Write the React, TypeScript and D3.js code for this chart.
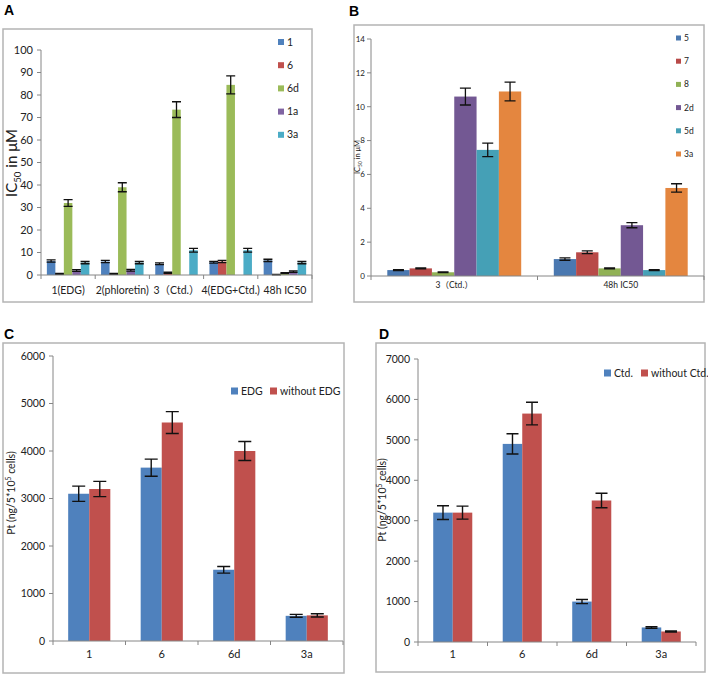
import React, { useRef, useEffect } from 'react';
import * as d3 from 'd3';

// Panel A: IC50 (µM)
const catsA = ['1(EDG)', '2(phloretin)', '3（Ctd.）', '4(EDG+Ctd.)', '48h IC50'];
const seriesA = ['1', '6', '6d', '1a', '3a'];
const a1 = [6.2, 6.0, 5.0, 5.7, 6.5];
const a6 = [0.5, 0.5, 1.0, 6.0, 0.2];
const a6d = [32, 39, 73.5, 84.5, 0.8];
const a1a = [2.0, 2.1, 0, 0, 1.5];
const a3a = [5.5, 5.5, 11, 11, 5.5];
const a1Err = [0.5, 0.5, 0.4, 0.4, 0.5];
const a6Err = [0.2, 0.2, 0.3, 0.5, 0.1];
const a6dErr = [1.5, 2, 3.5, 4, 0.2];
const a1aErr = [0.4, 0.4, 0, 0, 0.3];
const a3aErr = [0.5, 0.5, 0.8, 0.8, 0.5];

// Panel B: IC50 (µM)
const catsB = ['3（Ctd.）', '48h IC50'];
const seriesB = ['5', '7', '8', '2d', '5d', '3a'];
const b5 = [0.35, 1.0];
const b7 = [0.45, 1.4];
const b8 = [0.22, 0.45];
const b2d = [10.6, 3.0];
const b5d = [7.45, 0.35];
const b3a = [10.9, 5.2];
const b5Err = [0.03, 0.07];
const b7Err = [0.03, 0.08];
const b8Err = [0.02, 0.03];
const b2dErr = [0.5, 0.15];
const b5dErr = [0.4, 0.03];
const b3aErr = [0.55, 0.25];

// Panel C: Pt uptake
const catsC = ['1', '6', '6d', '3a'];
const seriesC = ['EDG', 'without EDG'];
const cEdg = [3100, 3650, 1500, 530];
const cNoEdg = [3200, 4600, 4000, 540];
const cEdgErr = [160, 180, 70, 30];
const cNoEdgErr = [160, 230, 200, 35];

// Panel D: Pt uptake
const catsD = ['1', '6', '6d', '3a'];
const seriesD = ['Ctd.', 'without Ctd.'];
const dCtd = [3200, 4900, 1000, 360];
const dNoCtd = [3200, 5650, 3500, 260];
const dCtdErr = [170, 250, 50, 20];
const dNoCtdErr = [160, 280, 180, 15];

const FONT = "Lato, 'Noto Sans CJK SC', sans-serif";
const AXIS = '#868686';

function drawPanel(root: any, cfg: any) {
  const g = root.append('g');
  // frame
  g.append('rect')
    .attr('x', cfg.frame[0]).attr('y', cfg.frame[1])
    .attr('width', cfg.frame[2]).attr('height', cfg.frame[3])
    .attr('fill', 'white').attr('stroke', '#b4b4b4').attr('stroke-width', 1.5);
  // panel letter
  g.append('text').attr('x', cfg.letterPos[0]).attr('y', cfg.letterPos[1])
    .attr('font-family', 'Arial, sans-serif').attr('font-weight', 'bold')
    .attr('font-size', 14).text(cfg.letter);

  const y = d3.scaleLinear().domain([0, cfg.max]).range([cfg.bottom, cfg.top]);
  const x0 = d3.scaleBand().domain(cfg.cats).range([cfg.left, cfg.right]).padding(0);
  const x1 = d3.scaleBand().domain(cfg.series).range([0, x0.bandwidth()])
    .paddingInner(0).paddingOuter(cfg.outer);

  // bars
  cfg.cats.forEach((c: string, ci: number) => {
    cfg.series.forEach((s: string, si: number) => {
      const v = cfg.values[si][ci];
      const e = cfg.errors[si][ci];
      const bx = (x0(c) || 0) + (x1(s) || 0);
      const bw = x1.bandwidth();
      g.append('rect').attr('x', bx).attr('y', y(v))
        .attr('width', bw).attr('height', cfg.bottom - y(v))
        .attr('fill', cfg.colors[si]);
      if (e > 0) {
        const cx = bx + bw / 2;
        const cw = cfg.cap / 2;
        g.append('path')
          .attr('d', `M${cx},${y(v - e)}V${y(v + e)}M${cx - cw},${y(v - e)}H${cx + cw}M${cx - cw},${y(v + e)}H${cx + cw}`)
          .attr('stroke', '#111').attr('stroke-width', cfg.errW).attr('fill', 'none');
      }
    });
  });

  // y axis
  const ticks = d3.range(0, cfg.max + cfg.step / 2, cfg.step);
  g.append('line').attr('x1', cfg.left).attr('x2', cfg.left)
    .attr('y1', cfg.bottom).attr('y2', cfg.top).attr('stroke', AXIS);
  ticks.forEach((t: number) => {
    g.append('line').attr('x1', cfg.left - 4).attr('x2', cfg.left)
      .attr('y1', y(t)).attr('y2', y(t)).attr('stroke', AXIS);
    g.append('text').attr('x', cfg.left - cfg.tickGap).attr('y', y(t))
      .attr('dy', '0.35em').attr('text-anchor', 'end')
      .attr('font-family', FONT).attr('font-size', cfg.tickFont).attr('fill', '#222')
      .text(t);
  });

  // x axis
  g.append('line').attr('x1', cfg.left).attr('x2', cfg.right)
    .attr('y1', cfg.bottom).attr('y2', cfg.bottom).attr('stroke', AXIS);
  const bounds = cfg.cats.map((c: string) => x0(c) || 0).concat([cfg.right]);
  bounds.forEach((bx: number) => {
    g.append('line').attr('x1', bx).attr('x2', bx)
      .attr('y1', cfg.bottom).attr('y2', cfg.bottom + 4).attr('stroke', AXIS);
  });
  cfg.cats.forEach((c: string) => {
    g.append('text').attr('x', (x0(c) || 0) + x0.bandwidth() / 2)
      .attr('y', cfg.bottom + cfg.catDy)
      .attr('text-anchor', 'middle').attr('font-family', FONT)
      .attr('font-size', cfg.catFont).attr('fill', '#222').text(c);
  });

  // y label
  const yl = g.append('text')
    .attr('transform', `translate(${cfg.yLabelPos[0]},${cfg.yLabelPos[1]}) rotate(-90)`)
    .attr('text-anchor', 'middle').attr('font-family', FONT)
    .attr('font-size', cfg.yLabelFont).attr('fill', '#222');
  cfg.yLabel.forEach((part: any) => {
    const ts = yl.append('tspan').text(part.t);
    if (part.sub) ts.attr('font-size', cfg.yLabelFont * 0.65).attr('dy', cfg.yLabelFont * 0.25);
    if (part.sup) ts.attr('font-size', cfg.yLabelFont * 0.65).attr('dy', -cfg.yLabelFont * 0.35);
    if (part.back) ts.attr('dy', part.back * cfg.yLabelFont);
  });

  // legend
  cfg.series.forEach((s: string, si: number) => {
    const [lx, ly] = cfg.legendPos[si];
    g.append('rect').attr('x', lx).attr('y', ly - cfg.sq / 2)
      .attr('width', cfg.sq).attr('height', cfg.sq).attr('fill', cfg.colors[si]);
    g.append('text').attr('x', lx + cfg.sq + 3).attr('y', ly).attr('dy', '0.35em')
      .attr('font-family', FONT).attr('font-size', cfg.legendFont).attr('fill', '#222').text(s);
  });
}

export default function App() {
  const svgRef = useRef<SVGSVGElement>(null);

  useEffect(() => {
    if (!svgRef.current) return;
    const svg = d3.select(svgRef.current);
    svg.selectAll('*').remove();

    const excel = ['#4f81bd', '#c0504d', '#9bbb59', '#8064a2', '#4bacc6'];

    drawPanel(svg, {
      letter: 'A', letterPos: [4, 15],
      frame: [3, 29, 309, 273],
      left: 41, right: 312, top: 50, bottom: 275,
      max: 100, step: 10, outer: 0.69,
      cats: catsA, series: seriesA,
      values: [a1, a6, a6d, a1a, a3a],
      errors: [a1Err, a6Err, a6dErr, a1aErr, a3aErr],
      colors: excel, cap: 9, errW: 1.3,
      tickFont: 11, tickGap: 8, catFont: 10.5, catDy: 19,
      yLabel: [{ t: 'IC' }, { t: '50', sub: true }, { t: ' in μM', back: -0.25 }],
      yLabelPos: [17, 163], yLabelFont: 15,
      legendPos: seriesA.map((_, i) => [278, 42 + i * 23.2]), sq: 6, legendFont: 10.5,
    });

    drawPanel(svg, {
      letter: 'B', letterPos: [349, 16],
      frame: [354, 25, 350, 277],
      left: 371, right: 704, top: 39, bottom: 276,
      max: 14, step: 2, outer: 0.73,
      cats: catsB, series: seriesB,
      values: [b5, b7, b8, b2d, b5d, b3a],
      errors: [b5Err, b7Err, b8Err, b2dErr, b5dErr, b3aErr],
      colors: ['#4a78b0', '#b84a48', '#90b155', '#735893', '#45a0b6', '#e4863f'],
      cap: 11, errW: 1.3,
      tickFont: 8, tickGap: 6, catFont: 8.5, catDy: 12,
      yLabel: [{ t: 'IC' }, { t: '50', sub: true }, { t: ' in μM', back: -0.25 }],
      yLabelPos: [360, 157], yLabelFont: 7.5,
      legendPos: seriesB.map((_, i) => [676, 38 + i * 23.2]), sq: 5, legendFont: 8.5,
    });

    drawPanel(svg, {
      letter: 'C', letterPos: [4, 339],
      frame: [3, 343, 341, 330],
      left: 53, right: 343, top: 356, bottom: 641,
      max: 6000, step: 1000, outer: 0.72,
      cats: catsC, series: seriesC,
      values: [cEdg, cNoEdg],
      errors: [cEdgErr, cNoEdgErr],
      colors: ['#4f81bd', '#c0504d'], cap: 13, errW: 1.4,
      tickFont: 10.5, tickGap: 8, catFont: 11, catDy: 17,
      yLabel: [{ t: 'Pt (ng/5*10' }, { t: '5', sup: true }, { t: ' cells)', back: 0.35 }],
      yLabelPos: [15, 493], yLabelFont: 10.5,
      legendPos: [[231, 391], [270, 391]], sq: 7, legendFont: 10.5,
    });

    drawPanel(svg, {
      letter: 'D', letterPos: [379, 339],
      frame: [376, 343, 329, 329],
      left: 418, right: 696, top: 359, bottom: 642,
      max: 7000, step: 1000, outer: 0.78,
      cats: catsD, series: seriesD,
      values: [dCtd, dNoCtd],
      errors: [dCtdErr, dNoCtdErr],
      colors: ['#4f81bd', '#c0504d'], cap: 12, errW: 1.4,
      tickFont: 10.5, tickGap: 8, catFont: 11, catDy: 16,
      yLabel: [{ t: 'Pt (ng/5*10' }, { t: '5', sup: true }, { t: ' cells)', back: 0.35 }],
      yLabelPos: [386, 500], yLabelFont: 10.5,
      legendPos: [[604, 373], [641, 373]], sq: 7, legendFont: 10.5,
    });
  }, []);

  return (
    <svg ref={svgRef} width={708} height={675}
      style={{ position: 'absolute', left: 0, top: 0, background: 'white' }} />
  );
}
